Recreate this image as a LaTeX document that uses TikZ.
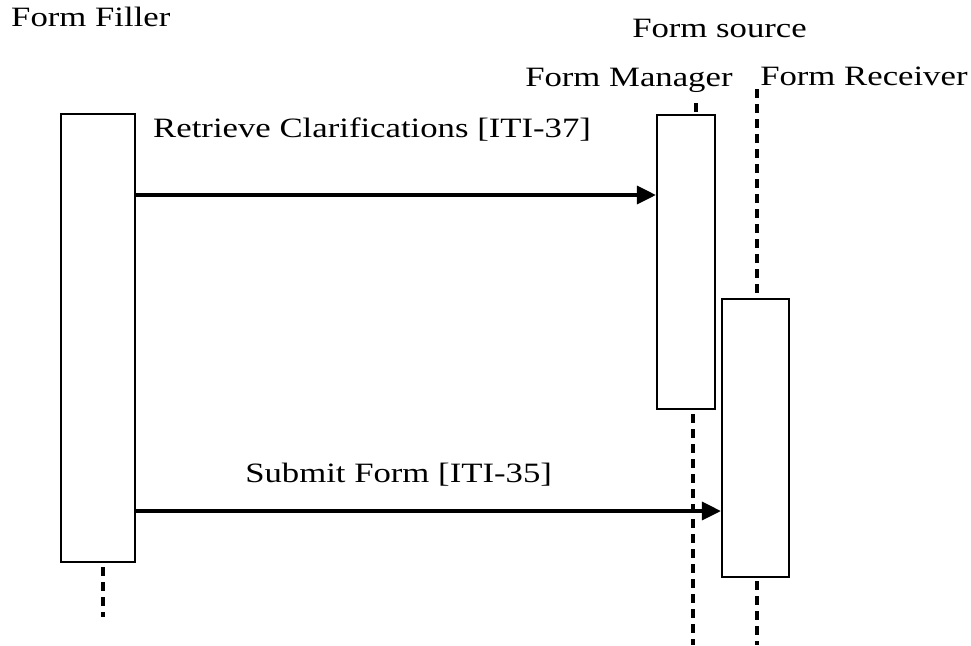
\documentclass[tikz,border=0pt]{standalone}
\usepackage{fontspec}
\setmainfont{Liberation Serif}
\usetikzlibrary{arrows.meta}
\newcommand{\lblfont}{\fontsize{28}{32}\selectfont}
\newcommand{\boxline}{2.2pt}

\begin{document}
\begin{tikzpicture}[x=1pt, y=-1pt, >={Triangle[length=19pt, width=18pt]},
        lifebox/.style={draw, line width=\boxline, inner sep=0pt},
        lifeline/.style={line width=3.5pt, dash pattern=on 9pt off 6pt},
        msg/.style={->, line width=3.3pt},
        lbl/.style={anchor=base west, inner sep=0pt, xscale=1.24, font=\lblfont}]
        \useasboundingbox (0, 0) rectangle (971, 645);

        % activation boxes
        \node[lifebox, minimum width=74pt, minimum height=448pt] (filler) at (98, 338) {};
        \node[lifebox, minimum width=58pt, minimum height=294pt] (manager) at (686, 262) {};
        \node[lifebox, minimum width=67pt, minimum height=278pt] (receiver) at (755.5, 438) {};

        % lifeline ends
        \coordinate (fillerend) at (103, 617);
        \coordinate (managertop) at (696, 103);
        \coordinate (managerend) at (693, 645);
        \coordinate (receivertop) at (757, 89);
        \coordinate (receiverend) at (757, 645);

        % dashed lifelines
        \draw[lifeline] ([yshift=-4pt]filler.south -| fillerend) -- (fillerend);
        \draw[lifeline] (managertop) -- (managertop |- manager.north);
        \draw[lifeline] ([yshift=-4pt]manager.south -| managerend) -- (managerend);
        \draw[lifeline] (receivertop) -- (receivertop |- receiver.north);
        \draw[lifeline] ([yshift=-3pt]receiver.south -| receiverend) -- (receiverend);

        % messages
        \coordinate (retrieve) at (0, 195);
        \coordinate (submit) at (0, 511);
        \draw[msg] (filler.east |- retrieve) -- (manager.west |- retrieve);
        \draw[msg] (filler.east |- submit) -- (receiver.west |- submit);

        % labels
        \node[lbl] (fillerlbl) at (11, 27) {Form Filler};
        \node[lbl] (sourcelbl) at (632, 37) {Form source};
        \node[lbl] (managerlbl) at (525, 86) {Form Manager};
        \node[lbl] (receiverlbl) at (760, 85) {Form Receiver};
        \node[lbl] (retrievelbl) at (153, 137) {Retrieve Clarifications [ITI-37]};
        \node[lbl] (submitlbl) at (245, 482) {Submit Form [ITI-35]};
\end{tikzpicture}
\end{document}
